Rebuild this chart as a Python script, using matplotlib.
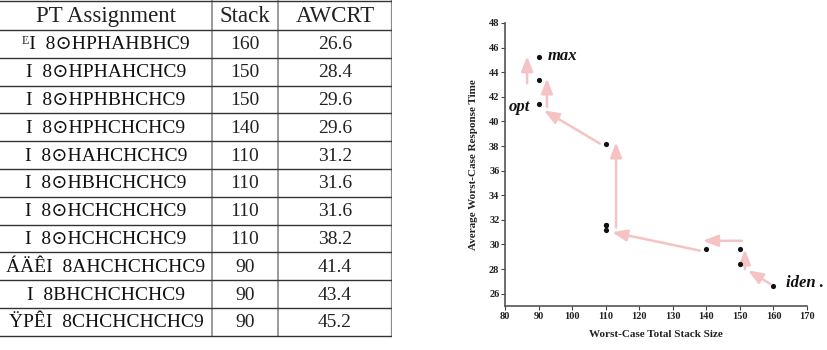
import matplotlib
matplotlib.use("Agg")
import matplotlib.pyplot as plt

# ---- tabela (esquerda) ----
HEADER = ["PT Assignment", "Stack", "AWCRT"]
ASSIGN = ["ᴱI  8⊙HPHAHBHC9", "I  8⊙HPHAHCHC9", "I  8⊙HPHBHCHC9", "I  8⊙HPHCHCHC9",
          "I  8⊙HAHCHCHC9", "I  8⊙HBHCHCHC9", "I  8⊙HCHCHCHC9", "I  8⊙HCHCHCHC9",
          "ÁÄÊI  8AHCHCHCHC9", "I  8BHCHCHCHC9", "ŸPÊI  8CHCHCHCHC9"]
STACK = [160, 150, 150, 140, 110, 110, 110, 110, 90, 90, 90]
AWCRT = [26.6, 28.4, 29.6, 29.6, 31.2, 31.6, 31.6, 38.2, 41.4, 43.4, 45.2]

# ---- setas do grafico (cauda x, cauda y, ponta x, ponta y) ----
ARROW_X0 = [159.0, 151.5, 150.6, 138.1, 113.1, 108.3, 92.5, 86.6]
ARROW_Y0 = [26.8, 28.0, 30.3, 29.5, 31.4, 38.2, 41.2, 43.1]
ARROW_X1 = [152.4, 151.5, 139.0, 111.9, 113.1, 91.6, 92.5, 86.6]
ARROW_Y1 = [27.9, 29.6, 30.3, 31.0, 38.3, 40.9, 43.5, 45.3]

LABELS = [("max", 92.6, 45.3, "left"), ("opt", 87.6, 41.2, "right"), ("iden .", 163.8, 26.9, "left")]

PINK = "#f5c3c3"
SF = ["Liberation Serif", "DejaVu Serif", "DejaVu Sans"]

fig = plt.figure(figsize=(8.28, 3.5), dpi=100)

# tabela em coordenadas de pixel
tab = fig.add_axes([0, 0, 392 / 828, 1])
tab.set_xlim(0, 392)
tab.set_ylim(350, 0)
tab.axis("off")
top, hh, rh = 1, 29, 27.8
col_x = [0, 212, 278, 392]
nrows = len(STACK)
bottom = top + hh + rh * nrows
for x in col_x[1:]:
    tab.plot([x, x], [top, bottom], color="#8a8a8a", lw=1.6 if x == 392 else 1.2)
ys = [top] + [top + hh + i * rh for i in range(nrows + 1)]
for y in ys:
    tab.plot([0, 392], [y, y], color="#333333", lw=1.0)

centers = [(col_x[i] + col_x[i + 1]) / 2 for i in range(3)]
for c, h in zip(centers, HEADER):
    tab.text(c, top + hh / 2 + 1, h, ha="center", va="center", family=SF, fontsize=16.5, color="#222222")
for i in range(nrows):
    yc = top + hh + rh * (i + 0.5) + 1
    tab.text(centers[0], yc, ASSIGN[i], ha="center", va="center", family=SF, fontsize=14,
             color="#111111")
    tab.text(centers[1], yc, str(STACK[i]), ha="center", va="center", family=SF, fontsize=14, color="#222222")
    tab.text(centers[2], yc, f"{AWCRT[i]:.1f}", ha="center", va="center", family=SF, fontsize=14, color="#222222")

# ---- grafico (direita) ----
ax = fig.add_axes([505 / 828, 1 - 306 / 350, 302 / 828, 283 / 350])
ax.set_xlim(80, 170)
ax.set_ylim(25, 48)
for s in ("top", "right"):
    ax.spines[s].set_visible(False)
for s in ("left", "bottom"):
    ax.spines[s].set_color("#555555")
    ax.spines[s].set_linewidth(1.2)
ax.set_xticks(range(80, 171, 10))
ax.set_yticks(range(26, 49, 2))
ax.tick_params(length=3, width=0.8, colors="#444444", labelsize=7.5, pad=1)
for lab in ax.get_xticklabels() + ax.get_yticklabels():
    lab.set_family(SF)
    lab.set_weight("bold")
    lab.set_color("#222222")

for x0, y0, x1, y1 in zip(ARROW_X0, ARROW_Y0, ARROW_X1, ARROW_Y1):
    ax.annotate("", xy=(x1, y1), xytext=(x0, y0),
                arrowprops=dict(arrowstyle="-|>,head_length=0.9,head_width=0.35", color=PINK,
                                lw=1.8, shrinkA=0, shrinkB=0, mutation_scale=10))

ax.scatter(STACK, AWCRT, s=14, color="#111111", zorder=3, linewidths=0)

for txt, x, y, ha in LABELS:
    ax.text(x, y, txt, ha=ha, va="center", family=SF, style="italic", weight="bold",
            fontsize=12, color="#111111")

ax.set_xlabel("Worst-Case Total Stack Size", family=SF, weight="bold", fontsize=8, labelpad=7, color="#222222")
ax.set_ylabel("Average Worst-Case Response Time", family=SF, weight="bold", fontsize=8, labelpad=8, color="#222222")

fig.savefig("out.png", dpi=100)
